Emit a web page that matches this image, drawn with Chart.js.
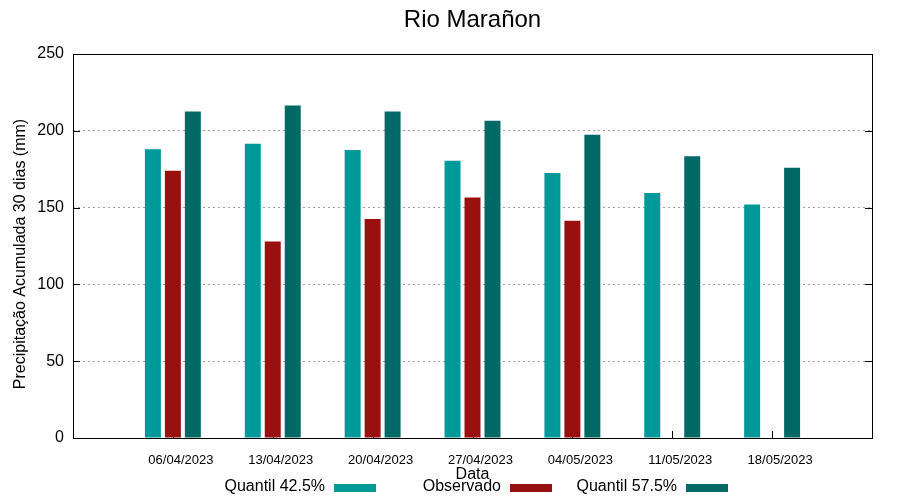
<!DOCTYPE html>
<html>
<head>
<meta charset="utf-8">
<script src="https://cdn.jsdelivr.net/npm/chart.js@4"></script>
<style>
  body { margin: 0; background: #fff; }
  #wrap { width: 900px; height: 500px; position: relative; }
</style>
</head>
<body>
<div id="wrap"><canvas id="chart" width="900" height="500"></canvas></div>
<script>
// weekly dates + accumulated precipitation (mm)
const dates = ["06/04/2023", "13/04/2023", "20/04/2023", "27/04/2023", "04/05/2023", "11/05/2023", "18/05/2023"];
const quantil425 = [188, 191.5, 187.5, 180.5, 172.5, 159.5, 152];
const observado = [174, 128, 142.5, 156.5, 141.5, null, null];
const quantil575 = [212.5, 216.5, 212.5, 206.5, 197.5, 183.5, 176];
const yTicks = [0, 50, 100, 150, 200, 250];

const FONT = "'Liberation Sans', Arial, sans-serif";

// empty slot on each side so the axis runs 0..8 like gnuplot
const labels = ["", ...dates, ""];
function pad(arr){
  return [null, ...arr, null];
}

// title, box, inward ticks and the gnuplot style legend
const extras = {
  id: "extras",
  beforeDatasetsDraw(chart){
    const ctx = chart.ctx;
    const area = chart.chartArea;
    const x = chart.scales.x;
    const y = chart.scales.y;
    ctx.save();
    ctx.strokeStyle = "#000";
    ctx.lineWidth = 1;
    ctx.beginPath();
    yTicks.forEach(v => {
      const py = Math.round(y.getPixelForValue(v)) + 0.5;
      ctx.moveTo(area.left, py); ctx.lineTo(area.left + 7, py);
      ctx.moveTo(area.right, py); ctx.lineTo(area.right - 7, py);
    });
    for(let i = 1; i <= dates.length; i++){
      const px = Math.round(x.getPixelForTick(i)) + 0.5;
      ctx.moveTo(px, area.bottom); ctx.lineTo(px, area.bottom - 7);
    }
    ctx.stroke();
    ctx.restore();
  },
  afterDraw(chart){
    const ctx = chart.ctx;
    const area = chart.chartArea;
    ctx.save();
    ctx.strokeStyle = "#000";
    ctx.lineWidth = 1;
    ctx.strokeRect(Math.round(area.left) + 0.5, Math.round(area.top) + 0.5,
      Math.round(area.right - area.left), Math.round(area.bottom - area.top));

    ctx.fillStyle = "#000";
    ctx.font = "24px " + FONT;
    ctx.textAlign = "center";
    ctx.textBaseline = "middle";
    ctx.fillText("Rio Marañon", (area.left + area.right) / 2, 20);

    // y title sits a bit below the axis middle in the original
    ctx.font = "16px " + FONT;
    ctx.save();
    ctx.translate(21, 254);
    ctx.rotate(-Math.PI / 2);
    ctx.fillText("Precipitação Acumulada 30 dias (mm)", 0, 0);
    ctx.restore();

    ctx.textAlign = "right";
    chart.data.datasets.forEach((ds, i) => {
      const sx = 334 + i * 176;
      ctx.fillStyle = "#000";
      ctx.fillText(ds.label, sx - 9, 487);
      ctx.fillStyle = ds.backgroundColor;
      ctx.fillRect(sx, 484, 42, 8);
    });
    ctx.restore();
  }
};

new Chart(document.getElementById("chart"), {
  type: "bar",
  data: {
    labels: labels,
    datasets: [
      { label: "Quantil 42.5%", data: pad(quantil425), backgroundColor: "#009999" },
      { label: "Observado", data: pad(observado), backgroundColor: "#991010" },
      { label: "Quantil 57.5%", data: pad(quantil575), backgroundColor: "#006966" }
    ]
  },
  options: {
    responsive: false,
    animation: false,
    devicePixelRatio: 1,
    layout: { padding: { top: 54, right: 28, left: 0, bottom: 0 } },
    datasets: { bar: { categoryPercentage: 0.6, barPercentage: 0.8 } },
    plugins: {
      legend: { display: false },
      title: { display: false },
      tooltip: { enabled: false }
    },
    scales: {
      x: {
        offset: false,
        grid: { display: false, drawTicks: false },
        border: { display: false },
        ticks: {
          autoSkip: false, maxRotation: 0, padding: 15, labelOffset: 8,
          color: "#000", font: { family: FONT, size: 13 }
        },
        title: {
          display: true, text: "Data", color: "#000",
          font: { family: FONT, size: 16 }, padding: { top: 0, bottom: 16 }
        },
        afterFit: s => { s.height = 62; }
      },
      y: {
        min: 0, max: 250,
        afterBuildTicks: s => { s.ticks = yTicks.map(v => ({ value: v })); },
        grid: { color: "#a0a0a0", lineWidth: 1, drawTicks: false },
        border: { display: false, dash: [2, 3] },
        ticks: { padding: 9, color: "#000", font: { family: FONT, size: 16 } },
        afterFit: s => { s.width = 73; }
      }
    }
  },
  plugins: [extras]
});
</script>
</body>
</html>
